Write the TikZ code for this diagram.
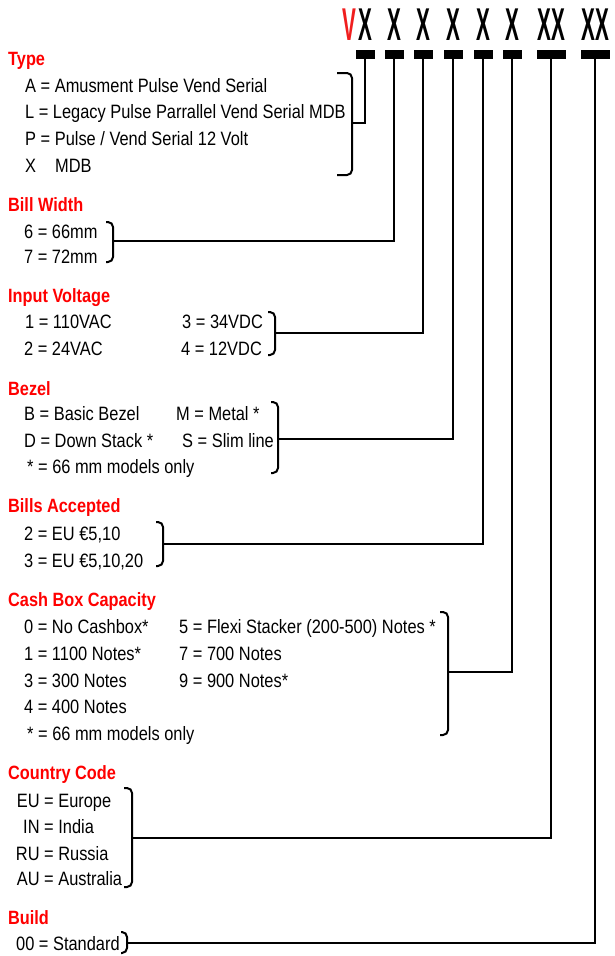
\documentclass[tikz,border=0pt]{standalone}
\usepackage{fontspec}
\setmainfont{Liberation Sans}
\usepackage{graphicx}
\newcommand\vst[1]{\scalebox{1}[1.18]{#1}}
\newcommand\hdr[1]{\scalebox{0.45}[1]{#1}}
\begin{document}
\begin{tikzpicture}[x=1pt,y=-1pt,
  head/.style={anchor=base west, inner sep=0pt, text=red, font=\fontsize{16.3}{16}\selectfont\bfseries},
  item/.style={anchor=base west, inner sep=0pt, font=\fontsize{16.4}{16}\selectfont},
  code/.style={anchor=base, inner sep=0pt, font=\fontsize{46}{46}\selectfont\bfseries},
  bar/.style={fill=black, inner sep=0pt, minimum height=9pt},
  brk/.style={line width=2pt, rounded corners=5pt},
  link/.style={line width=2.5pt}]
\useasboundingbox (0,0) rectangle (614,956);

% code letters
\node[code, text={rgb,255:red,240;green,30;blue,30}] (c0) at (349,40) {\hdr{V}};
\node[code] (c1) at (365,40) {\hdr{X}};
\node[code] (c2) at (394,40) {\hdr{X}};
\node[code] (c3) at (423,40) {\hdr{X}};
\node[code] (c4) at (453,40) {\hdr{X}};
\node[code] (c5) at (483,40) {\hdr{X}};
\node[code] (c6) at (512,40) {\hdr{X}};
\node[code] (c7) at (551,40) {\hdr{XX}};
\node[code] (c8) at (595,40) {\hdr{XX}};

% bars
\node[bar, minimum width=19pt] (b1) at (365,54.5) {};
\node[bar, minimum width=19pt] (b2) at (394,54.5) {};
\node[bar, minimum width=19pt] (b3) at (423,54.5) {};
\node[bar, minimum width=19pt] (b4) at (453,54.5) {};
\node[bar, minimum width=19pt] (b5) at (483,54.5) {};
\node[bar, minimum width=19pt] (b6) at (512,54.5) {};
\node[bar, minimum width=29pt] (b7) at (551,54.5) {};
\node[bar, minimum width=29pt] (b8) at (595,54.5) {};

% Type
\node[head] (h1) at (8,65) {\vst{Type}};
\node[item] (t1) at (25,92) {\vst{A = Amusment Pulse Vend Serial}};
\node[item] (t2) at (25,118) {\vst{L = Legacy Pulse Parrallel Vend Serial MDB}};
\node[item] (t3) at (25,145) {\vst{P = Pulse / Vend Serial 12 Volt}};
\node[item] (t4) at (25,172) {\vst{\makebox[30pt][l]{X}MDB}};
\draw[brk] (337,73) -- (352,73) -- (352,175) -- (337,175);
\coordinate (k1) at (352,123);
\draw[link] (k1) -| (b1.south);

% Bill Width
\node[head] (h2) at (8,211) {\vst{Bill Width}};
\node[item] (w1) at (24,238) {\vst{6 = 66mm}};
\node[item] (w2) at (24,263) {\vst{7 = 72mm}};
\draw[brk] (106,222) -- (113,222) -- (113,262) -- (106,262);
\coordinate (k2) at (113,241);
\draw[link] (k2) -| (b2.south);

% Input Voltage
\node[head] (h3) at (8,302) {\vst{Input Voltage}};
\node[item] (v1) at (25,328) {\vst{1 = 110VAC}};
\node[item] (v2) at (24,355) {\vst{2 = 24VAC}};
\node[item] (v3) at (182,328) {\vst{3 = 34VDC}};
\node[item] (v4) at (181,355) {\vst{4 = 12VDC}};
\draw[brk] (268,312) -- (275,312) -- (275,355) -- (268,355);
\coordinate (k3) at (275,333);
\draw[link] (k3) -| (b3.south);

% Bezel
\node[head] (h4) at (8,395) {\vst{Bezel}};
\node[item] (z1) at (24,420) {\vst{B = Basic Bezel}};
\node[item] (z2) at (24,447) {\vst{D = Down Stack *}};
\node[item] (z3) at (27,473) {\vst{* = 66 mm models only}};
\node[item] (z4) at (176,420) {\vst{M = Metal *}};
\node[item] (z5) at (182,447) {\vst{S = Slim line}};
\draw[brk] (271,402) -- (278,402) -- (278,473) -- (271,473);
\coordinate (k4) at (278,439);
\draw[link] (k4) -| (b4.south);

% Bills Accepted
\node[head] (h5) at (8,512) {\vst{Bills Accepted}};
\node[item] (a1) at (24,540) {\vst{2 = EU €5,10}};
\node[item] (a2) at (24,567) {\vst{3 = EU €5,10,20}};
\draw[brk] (156,522) -- (163,522) -- (163,566) -- (156,566);
\coordinate (k5) at (163,544);
\draw[link] (k5) -| (b5.south);

% Cash Box Capacity
\node[head] (h6) at (8,606) {\vst{Cash Box Capacity}};
\node[item] (x1) at (24,633) {\vst{0 = No Cashbox*}};
\node[item] (x2) at (24,660) {\vst{1 = 1100 Notes*}};
\node[item] (x3) at (24,687) {\vst{3 = 300 Notes}};
\node[item] (x4) at (24,713) {\vst{4 = 400 Notes}};
\node[item] (x5) at (27,740) {\vst{* = 66 mm models only}};
\node[item] (x6) at (179,633) {\vst{5 = Flexi Stacker (200-500) Notes *}};
\node[item] (x7) at (179,660) {\vst{7 = 700 Notes}};
\node[item] (x8) at (179,687) {\vst{9 = 900 Notes*}};
\draw[brk] (440,612) -- (448,612) -- (448,735) -- (440,735);
\coordinate (k6) at (448,672);
\draw[link] (k6) -| (b6.south);

% Country Code
\node[head] (h7) at (8,779) {\vst{Country Code}};
\node[item] (y1) at (44,807) {\vst{\llap{EU\ }= Europe}};
\node[item] (y2) at (44,833) {\vst{\llap{IN\ }= India}};
\node[item] (y3) at (44,860) {\vst{\llap{RU\ }= Russia}};
\node[item] (y4) at (44,885) {\vst{\llap{AU\ }= Australia}};
\draw[brk] (124,788) -- (132,788) -- (132,887) -- (124,887);
\coordinate (k7) at (132,838);
\draw[link] (k7) -| (b7.south);

% Build
\node[head] (h8) at (8,924) {\vst{Build}};
\node[item] (s1) at (16,950) {\vst{00 = Standard}};
\draw[brk] (121,932) -- (127,932) -- (127,953) -- (121,953);
\coordinate (k8) at (127,943);
\draw[link] (k8) -| (b8.south);
\end{tikzpicture}
\end{document}
